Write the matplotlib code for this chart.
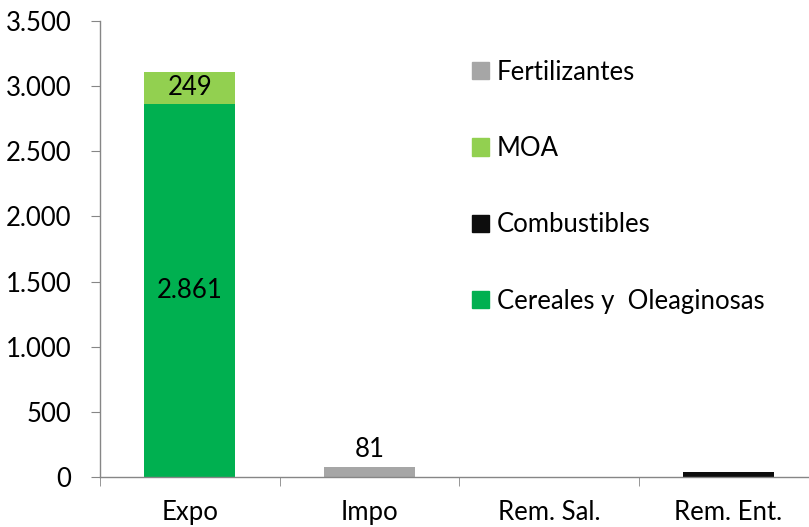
import numpy as np
import matplotlib.pyplot as plt
from matplotlib.patches import Patch
from matplotlib.ticker import FuncFormatter

categories = ["Expo", "Impo", "Rem. Sal.", "Rem. Ent."]
cereales = [2861, 0, 0, 0]
combustibles = [0, 0, 0, 40]
moa = [249, 0, 0, 0]
fertilizantes = [0, 81, 0, 0]

series = [
    ("Cereales y  Oleaginosas", cereales, "#00B050"),
    ("Combustibles", combustibles, "#0D0D0D"),
    ("MOA", moa, "#92D050"),
    ("Fertilizantes", fertilizantes, "#A6A6A6"),
]

plt.rcParams["font.family"] = ["Lato", "DejaVu Sans"]
fs = 18.5

fig = plt.figure(figsize=(8.09, 5.27), dpi=100)
W, H = 809, 527
ax = fig.add_axes([100 / W, (H - 477.3) / H, 718 / W, 456.6 / H])

x = np.arange(len(categories))
bottom = np.zeros(len(categories))
for name, vals, col in series:
    vals = np.array(vals, dtype=float)
    ax.bar(x, vals, width=0.507, bottom=bottom, color=col, label=name, zorder=2)
    bottom += vals

def fmt(v):
    return f"{v:,.0f}".replace(",", ".")

ax.text(x[0], cereales[0] / 2, fmt(cereales[0]), ha="center", va="center", fontsize=fs)
ax.text(x[0], cereales[0] + moa[0] / 2, fmt(moa[0]), ha="center", va="center", fontsize=fs)
ax.text(x[1], fertilizantes[1] + 35, fmt(fertilizantes[1]), ha="center", va="bottom", fontsize=fs)

ax.set_xlim(-0.5, 3.5)
ax.set_ylim(0, 3500)
ax.set_yticks(np.arange(0, 3501, 500))
ax.yaxis.set_major_formatter(FuncFormatter(lambda v, p: fmt(v)))
ax.set_xticks(x)
ax.set_xticklabels(categories)
ax.set_xticks(np.arange(-0.5, 4, 1), minor=True)

for s in ["top", "right"]:
    ax.spines[s].set_visible(False)
for s in ["left", "bottom"]:
    ax.spines[s].set_color("#868686")
    ax.spines[s].set_linewidth(1)

ax.tick_params(axis="y", length=6.5, color="#868686", pad=14, labelsize=fs)
ax.tick_params(axis="x", which="major", length=0, pad=16, labelsize=fs)
ax.tick_params(axis="x", which="minor", length=6.5, color="#868686")

handles = [Patch(color=c, label=n) for n, _, c in series][::-1]
fig.legend(handles=handles, loc="upper left", bbox_to_anchor=(472 / W, 1 - 59.5 / H),
           frameon=False, fontsize=fs, handlelength=0.66, handleheight=0.66,
           handletextpad=0.3, labelspacing=2.0, borderpad=0, borderaxespad=0)

fig.savefig("out.png", dpi=100)
